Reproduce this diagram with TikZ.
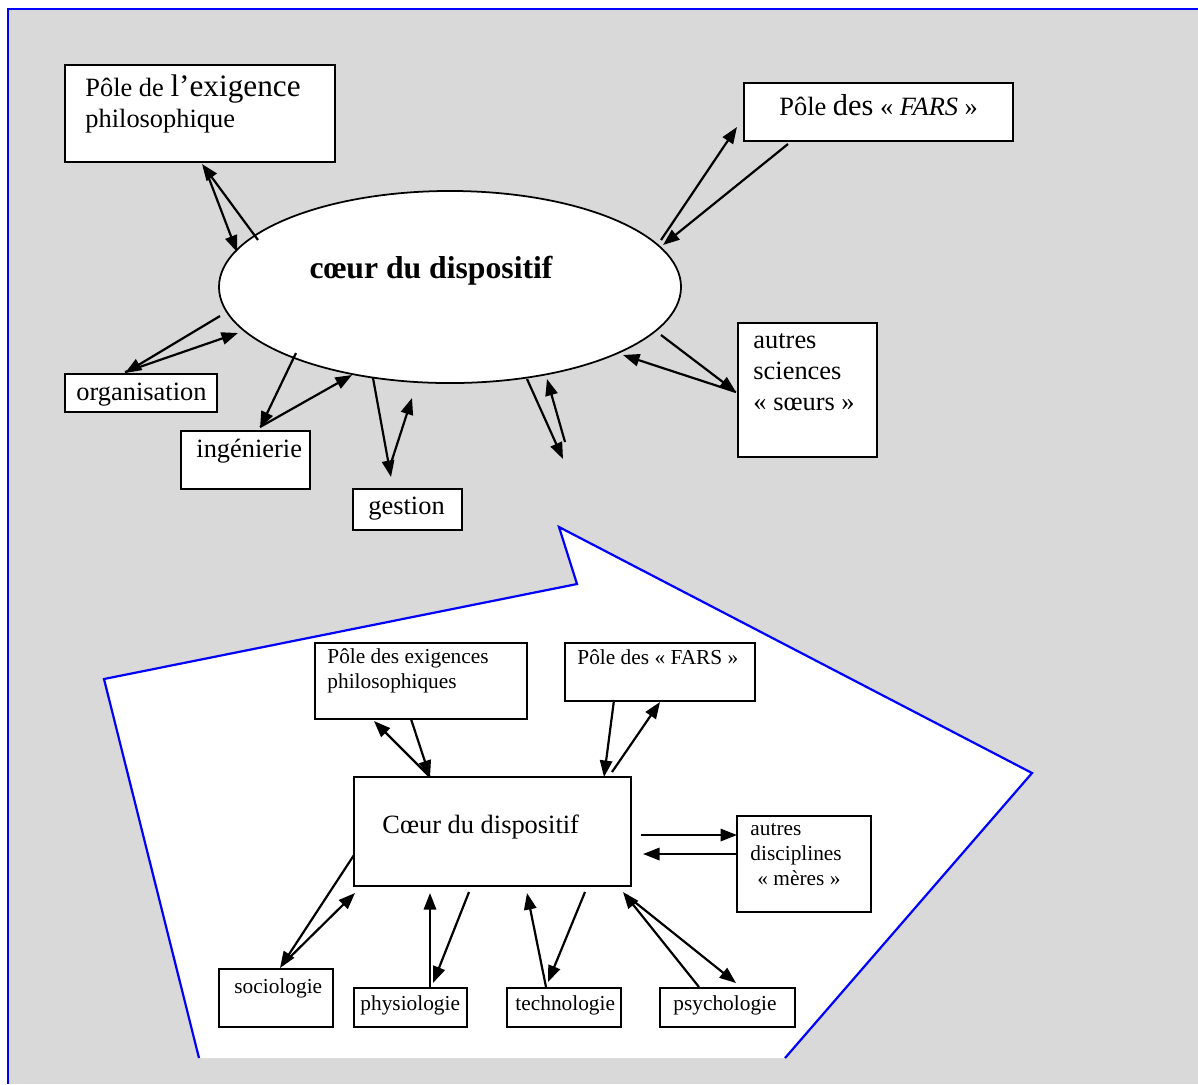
\documentclass[tikz,border=0pt]{standalone}
\usepackage{fontspec}
\setmainfont{Liberation Serif}
\usetikzlibrary{arrows.meta,fit,shapes.geometric}

\definecolor{panelgray}{RGB}{217,217,217}
\definecolor{frameblue}{RGB}{0,0,255}

\tikzset{
    box/.style={draw=black, fill=white, line width=0.9pt, inner sep=0pt},
    bigtxt/.style={anchor=base west, inner sep=0pt, font=\fontsize{12}{14}\selectfont},
    smalltxt/.style={anchor=base west, inner sep=0pt, font=\fontsize{9.7}{11}\selectfont},
    link/.style={line width=1pt, -{Triangle[length=7.5pt,width=5.6pt]}},
}

\begin{document}
\begin{tikzpicture}[x=0.4545pt, y=-0.4545pt]

    \useasboundingbox (0,0) rectangle (1198,1084);
    \fill[white] (0,0) rectangle (1198,1084);
    \fill[panelgray] (8,9) rectangle (1198,1084);
    \draw[frameblue, line width=1.3pt] (8,1084) -- (8,9) -- (1198,9);

    % callout
    \fill[white] (559,527) -- (1032,773) -- (785,1058) -- (199,1058) -- (104,679) -- (577,584) -- cycle;
    \draw[frameblue, line width=1pt] (785,1058) -- (1032,773) -- (559,527) -- (577,584) -- (104,679) -- (199,1058);

    % upper part
    \node[ellipse, draw, fill=white, line width=0.8pt, minimum width=210pt, minimum height=87.3pt, inner sep=0pt] (coeur) at (450,287) {};
    \node[anchor=base, inner sep=0pt, font=\fontsize{14.4}{16}\selectfont\bfseries] (coeurtxt) at (431,278) {cœur du dispositif};

    \node[box, fit={(65,65) (335,162)}] (philbox) {};
    \node[bigtxt] (phil1) at (85,96) {Pôle de {\fontsize{14.2}{16}\selectfont l’exigence}};
    \node[bigtxt] (phil2) at (85,127) {philosophique};

    \node[box, fit={(744,83) (1013,141)}] (farsbox) {};
    \node[bigtxt] (farstxt) at (779,115) {Pôle {\fontsize{13.8}{16}\selectfont des} « \textit{FARS} »};

    \node[box, fit={(65,374) (217,412)}] (orgbox) {};
    \node[bigtxt] (orgtxt) at (76,400) {organisation};

    \node[box, fit={(181,431) (310,489)}] (ingbox) {};
    \node[bigtxt] (ingtxt) at (196,457) {ingénierie};

    \node[box, fit={(353,489) (462,530)}] (gestbox) {};
    \node[bigtxt] (gesttxt) at (368,514) {gestion};

    \node[box, fit={(738,323) (877,457)}] (scibox) {};
    \node[bigtxt] (sci1) at (753,348) {autres};
    \node[bigtxt] (sci2) at (753,379) {sciences};
    \node[bigtxt] (sci3) at (753,410) {« sœurs »};

    % arrow ends, upper part
    \coordinate (ph1) at (258,240); \coordinate (ph2) at (202,164);
    \coordinate (ph3) at (205,168); \coordinate (ph4) at (237,252);
    \coordinate (fa1) at (661,240); \coordinate (fa2) at (737,127);
    \coordinate (fa3) at (788,144); \coordinate (fa4) at (663,245);
    \coordinate (or1) at (220,316); \coordinate (or2) at (125,373);
    \coordinate (or3) at (125,372); \coordinate (or4) at (238,333);
    \coordinate (in1) at (296,353); \coordinate (in2) at (260,428);
    \coordinate (in3) at (260,427); \coordinate (in4) at (352,375);
    \coordinate (ge1) at (373,378); \coordinate (ge2) at (391,477);
    \coordinate (ge3) at (391,463); \coordinate (ge4) at (412,398);
    \coordinate (fr1) at (527,379); \coordinate (fr2) at (563,459);
    \coordinate (fr3) at (565,442); \coordinate (fr4) at (547,379);
    \coordinate (sc1) at (661,335); \coordinate (sc2) at (736,392);
    \coordinate (sc3) at (736,392); \coordinate (sc4) at (623,355);

    \draw[link] (ph1) -- (ph2);
    \draw[link] (ph3) -- (ph4);
    \draw[link] (fa1) -- (fa2);
    \draw[link] (fa3) -- (fa4);
    \draw[link] (or1) -- (or2);
    \draw[link] (or3) -- (or4);
    \draw[link] (in1) -- (in2);
    \draw[link] (in3) -- (in4);
    \draw[link] (ge1) -- (ge2);
    \draw[link] (ge3) -- (ge4);
    \draw[link] (fr1) -- (fr2);
    \draw[link] (fr3) -- (fr4);
    \draw[link] (sc1) -- (sc2);
    \draw[link] (sc3) -- (sc4);

    % lower part
    \node[box, fit={(354,777) (631,886)}] (mainbox) {};
    \node[bigtxt] (maintxt) at (382,833) {Cœur du dispositif};

    \node[box, fit={(315,643) (527,719)}] (exigbox) {};
    \node[smalltxt] (exig1) at (327,663) {Pôle des exigences};
    \node[smalltxt] (exig2) at (327,688) {philosophiques};

    \node[box, fit={(565,643) (755,701)}] (fars2box) {};
    \node[smalltxt] (fars2txt) at (577,664) {Pôle des « FARS »};

    \node[box, fit={(737,816) (871,912)}] (merbox) {};
    \node[smalltxt] (mer1) at (750,835) {autres};
    \node[smalltxt] (mer2) at (750,860) {disciplines};
    \node[smalltxt] (mer3) at (757,885) {« mères »};

    \node[box, fit={(219,969) (333,1027)}] (socbox) {};
    \node[smalltxt] (soctxt) at (234,993) {sociologie};
    \node[box, fit={(354,988) (467,1027)}] (phybox) {};
    \node[smalltxt] (phytxt) at (360,1010) {physiologie};
    \node[box, fit={(507,988) (621,1027)}] (techbox) {};
    \node[smalltxt] (techtxt) at (515,1010) {technologie};
    \node[box, fit={(660,988) (795,1027)}] (psybox) {};
    \node[smalltxt] (psytxt) at (673,1010) {psychologie};

    % arrow ends, lower part
    \coordinate (ex1) at (430,777); \coordinate (ex2) at (374,721);
    \coordinate (ex3) at (411,719); \coordinate (ex4) at (430,777);
    \coordinate (fb1) at (614,700); \coordinate (fb2) at (604,777);
    \coordinate (fb3) at (612,772); \coordinate (fb4) at (660,702);
    \coordinate (me1) at (641,835); \coordinate (me2) at (737,835);
    \coordinate (me3) at (737,854); \coordinate (me4) at (643,854);
    \coordinate (so1) at (354,855); \coordinate (so2) at (280,968);
    \coordinate (so3) at (282,965); \coordinate (so4) at (355,893);
    \coordinate (py1) at (430,987); \coordinate (py2) at (430,893);
    \coordinate (py3) at (469,892); \coordinate (py4) at (433,983);
    \coordinate (te1) at (546,987); \coordinate (te2) at (527,893);
    \coordinate (te3) at (585,892); \coordinate (te4) at (548,982);
    \coordinate (ps1) at (699,987); \coordinate (ps2) at (623,892);
    \coordinate (ps3) at (626,895); \coordinate (ps4) at (736,983);

    \draw[link] (ex1) -- (ex2);
    \draw[link] (ex3) -- (ex4);
    \draw[link] (fb1) -- (fb2);
    \draw[link] (fb3) -- (fb4);
    \draw[link] (me1) -- (me2);
    \draw[link] (me3) -- (me4);
    \draw[link] (so1) -- (so2);
    \draw[link] (so3) -- (so4);
    \draw[link] (py1) -- (py2);
    \draw[link] (py3) -- (py4);
    \draw[link] (te1) -- (te2);
    \draw[link] (te3) -- (te4);
    \draw[link] (ps1) -- (ps2);
    \draw[link] (ps3) -- (ps4);

\end{tikzpicture}
\end{document}
